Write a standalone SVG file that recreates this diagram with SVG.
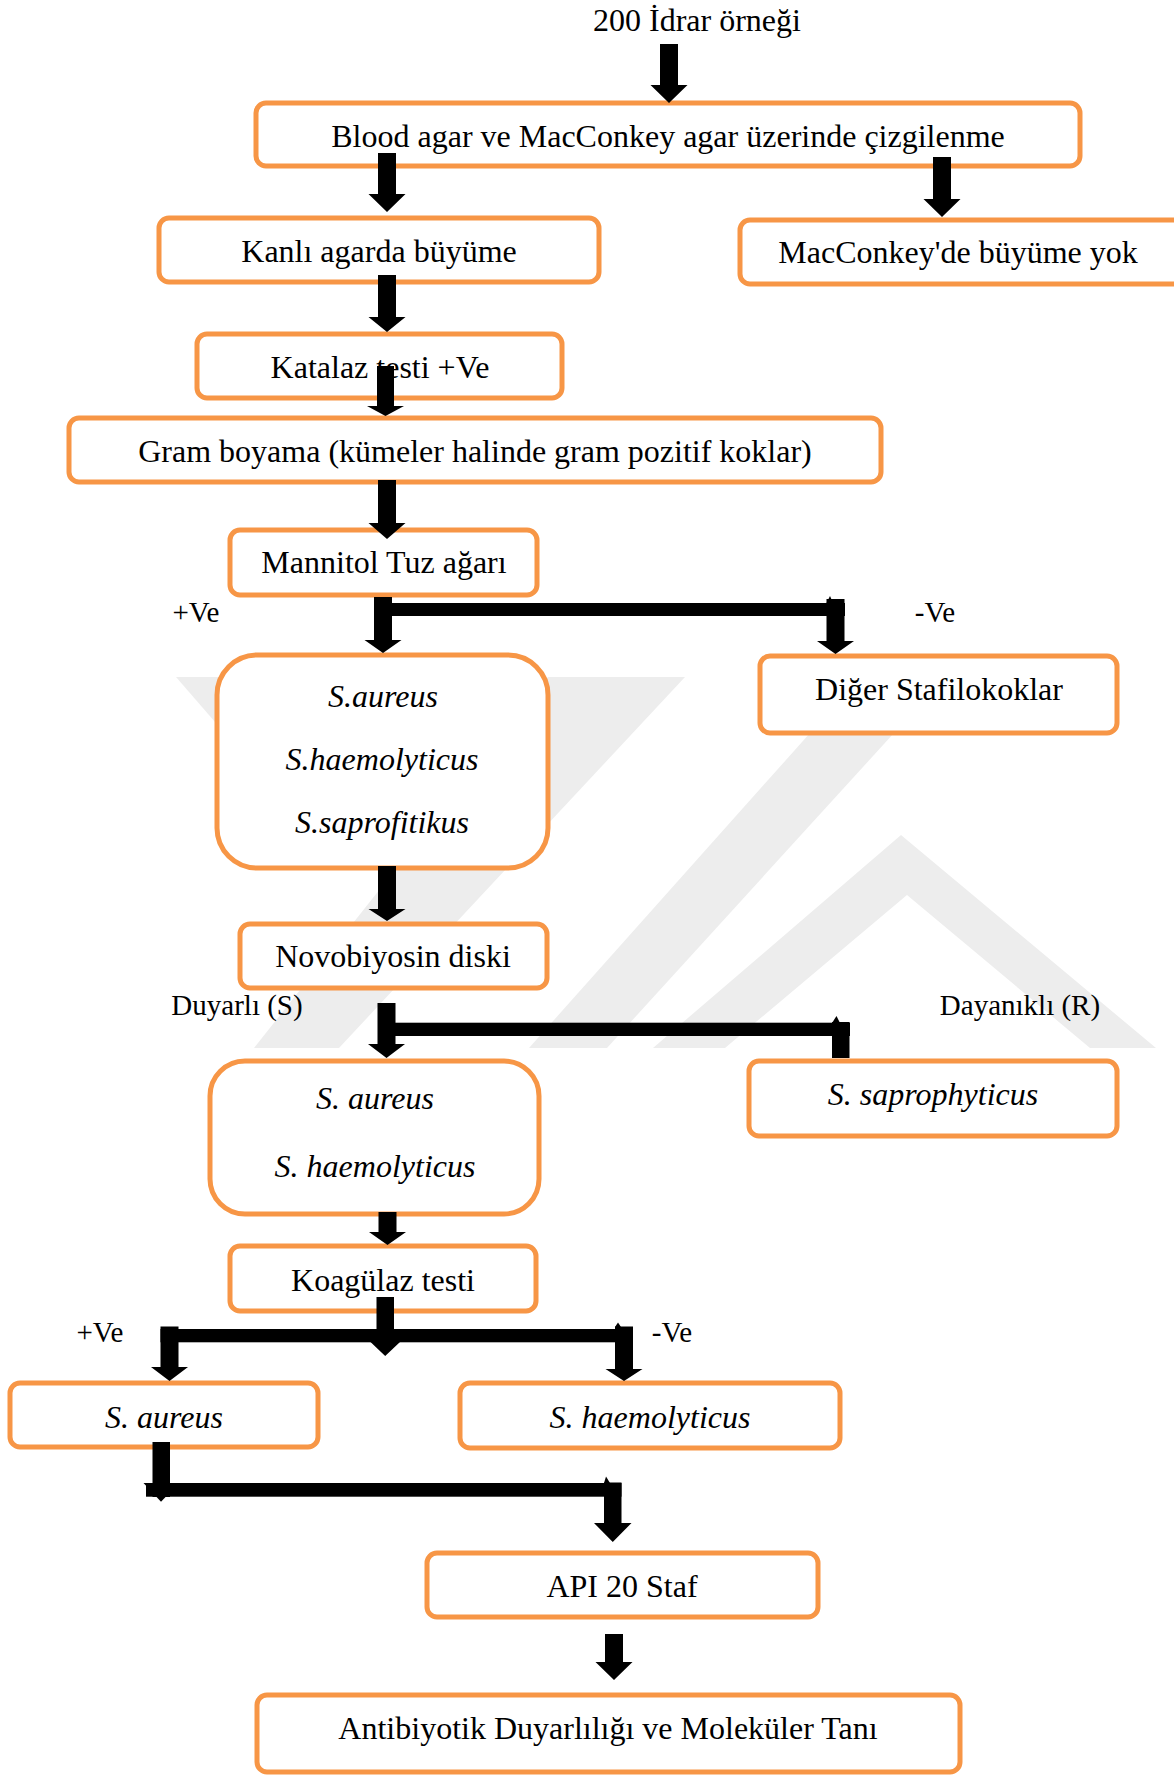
<svg xmlns="http://www.w3.org/2000/svg" width="1174" height="1775" viewBox="0 0 1174 1775">
<style>
.box{fill:#fff;stroke:#F79646;stroke-width:5}
.t{font-family:"Liberation Serif","Times New Roman",serif;font-size:32px;text-anchor:middle;fill:#000}
.i{font-style:italic}
.l{font-size:29px}
.a{fill:#000}
.wm{fill:#EDEDED}
</style>
<rect width="1174" height="1775" fill="#fff"/>
<g id="watermark" class="wm">
<polygon points="176,677 256,677 380,820 300,820"/>
<polygon points="548,677 685,677 339,1048 254,1048"/>
<polygon points="860,677 945,677 607,1048 529,1048"/>
<polygon points="901,835 1156,1048 1090,1048 907,895 725,1048 653,1048"/>
</g>
<text class="t" x="697" y="31">200 İdrar örneği</text>
<g id="n_blood"><rect class="box" x="256" y="103" width="824" height="63" rx="10"/><text class="t" x="668" y="147">Blood agar ve MacConkey agar üzerinde çizgilenme</text></g>
<g id="n_kanli"><rect class="box" x="159" y="218" width="440" height="64" rx="10"/><text class="t" x="379" y="262">Kanlı agarda büyüme</text></g>
<g id="n_macconkey"><rect class="box" x="740" y="220" width="450" height="64" rx="10"/><text class="t" x="958" y="263">MacConkey'de büyüme yok</text></g>
<g id="n_katalaz"><rect class="box" x="197" y="334" width="365" height="64" rx="10"/><text class="t" x="380" y="378">Katalaz testi +Ve</text></g>
<g id="n_gram"><rect class="box" x="69" y="418" width="812" height="64" rx="10"/><text class="t" x="475" y="462">Gram boyama (kümeler halinde gram pozitif koklar)</text></g>
<g id="n_mannitol"><rect class="box" x="230" y="530" width="307" height="65" rx="10"/><text class="t" x="384" y="573">Mannitol Tuz ağarı</text></g>
<text class="t l" x="196" y="622">+Ve</text>
<text class="t l" x="935" y="622">-Ve</text>
<g id="n_group1"><rect class="box" x="217" y="655" width="331" height="213" rx="40"/><text class="t i" x="383" y="707">S.aureus</text><text class="t i" x="382" y="770">S.haemolyticus</text><text class="t i" x="382" y="833">S.saprofitikus</text></g>
<g id="n_diger"><rect class="box" x="760" y="656" width="357" height="77" rx="10"/><text class="t" x="939" y="700">Diğer Stafilokoklar</text></g>
<g id="n_novo"><rect class="box" x="240" y="924" width="307" height="64" rx="10"/><text class="t" x="393" y="967">Novobiyosin diski</text></g>
<text class="t l" x="237" y="1015">Duyarlı (S)</text>
<text class="t l" x="1020" y="1015">Dayanıklı (R)</text>
<g id="n_group2"><rect class="box" x="210" y="1061" width="329" height="153" rx="35"/><text class="t i" x="375" y="1109">S. aureus</text><text class="t i" x="375" y="1177">S. haemolyticus</text></g>
<g id="n_sapro"><rect class="box" x="749" y="1061" width="368" height="75" rx="10"/><text class="t i" x="933" y="1105">S. saprophyticus</text></g>
<g id="n_koag"><rect class="box" x="230" y="1246" width="306" height="65" rx="10"/><text class="t" x="383" y="1291">Koagülaz testi</text></g>
<text class="t l" x="100" y="1342">+Ve</text>
<text class="t l" x="672" y="1342">-Ve</text>
<g id="n_aureus"><rect class="box" x="10" y="1383" width="308" height="64" rx="10"/><text class="t i" x="164" y="1428">S. aureus</text></g>
<g id="n_haemo"><rect class="box" x="460" y="1383" width="380" height="65" rx="10"/><text class="t i" x="650" y="1428">S. haemolyticus</text></g>
<g id="n_api"><rect class="box" x="427" y="1553" width="391" height="64" rx="10"/><text class="t" x="622" y="1597">API 20 Staf</text></g>
<g id="n_anti"><rect class="box" x="257" y="1695" width="703" height="77" rx="10"/><text class="t" x="608" y="1739">Antibiyotik Duyarlılığı ve Moleküler Tanı</text></g>
<g id="connectors" class="a">
<path d="M660,44 H678 V85 H687.5 L669,103 L650.5,85 H660 Z"/>
<path d="M378,153 H396 V194 H405.5 L387,212 L368.5,194 H378 Z"/>
<path d="M933,157 H951 V199 H960.5 L942,217 L923.5,199 H933 Z"/>
<path d="M378,275 H396 V317 H405.5 L387,332 L368.5,317 H378 Z"/>
<path d="M377,366 H394 V406 H404 L385.5,416 L367,406 H377 Z"/>
<path d="M378,480 H396 V523 H405.5 L387,539 L368.5,523 H378 Z"/>
<path d="M374,597 H392 V640 H401.5 L383,653 L364.5,640 H374 Z"/>
<rect x="374" y="603" width="471" height="13"/>
<path d="M826.5,599 H844.5 V641 H854 L835.5,654 L817,641 H826.5 Z"/>
<path d="M826.5,603 L830,596 L833,603 Z"/>
<path d="M378,866 H396 V909 H405.5 L387,921 L368.5,909 H378 Z"/>
<path d="M377.5,1003 H395.5 V1044 H405 L386.5,1058 L368,1044 H377.5 Z"/>
<rect x="378" y="1022.7" width="472" height="13.3"/>
<rect x="832" y="1022" width="17.5" height="36"/>
<path d="M832,1023 L836.5,1016 L840,1023 Z"/>
<path d="M378.5,1212 H396.5 V1232 H406 L387.5,1245 L369,1232 H378.5 Z"/>
<path d="M376.5,1297 H394 V1342 H400 L385.2,1356 L370.5,1342 H376.5 Z"/>
<rect x="160.5" y="1329" width="472.5" height="13.3"/>
<path d="M160.5,1326.5 H178.5 V1367 H188 L169.5,1381 L151,1367 H160.5 Z"/>
<path d="M615,1326.5 H633 V1369 H642.5 L624,1381 L605.5,1369 H615 Z"/>
<path d="M615,1327 L618,1322.5 L621,1327 Z"/>
<rect x="152.5" y="1442" width="17.5" height="55"/>
<path d="M143.5,1483 H179 L161,1501.7 Z"/>
<rect x="146" y="1483" width="475.5" height="13.7"/>
<path d="M604,1482.5 H621.5 V1523 H631.5 L612.75,1542 L594,1523 H604 Z"/>
<path d="M604,1483 L606,1476.5 L610,1483 Z"/>
<path d="M605,1634 H623 V1662 H632.5 L614,1680 L595.5,1662 H605 Z"/>
</g>
</svg>
